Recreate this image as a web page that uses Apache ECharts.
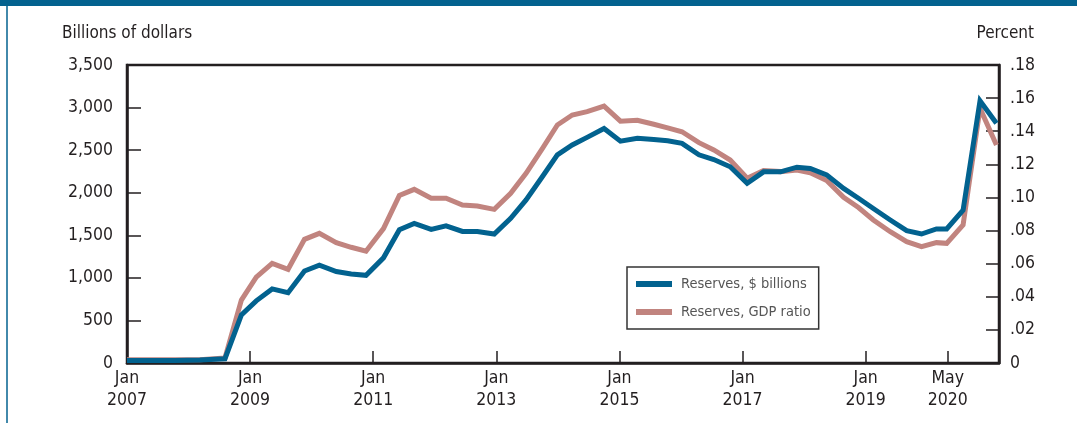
<!DOCTYPE html>
<html lang="en">
<head>
    <meta charset="UTF-8">
    <title>Reserves</title>
    <script src="https://cdn.jsdelivr.net/npm/echarts@6/dist/echarts.min.js"></script>
    <style>
        html, body { margin: 0; padding: 0; background: #fff; }
    </style>
</head>
<body>
<div id="main" style="width: 1077px;height:423px;"></div>
<script>
    // months since Jan 2007
    var months = [0, 4.5, 9.3, 14.2, 19.1, 22.3, 25.2, 28.3, 31.4, 34.6, 37.5, 40.8, 43.7, 46.6,
        50.0, 53.1, 56.0, 59.3, 62.2, 65.4, 68.3, 71.6, 74.8, 77.8, 81.0, 83.9, 86.8, 89.7,
        93.0, 96.2, 99.5, 102.7, 105.4, 108.2, 111.5, 114.4, 117.6, 120.9, 124.1, 127.4, 130.6,
        133.2, 136.4, 139.7, 142.6, 145.5, 148.8, 152.0, 154.9, 157.8, 159.8, 163.0, 166.3, 169.5];

    // Reserves, $ billions
    var reserves = [30, 30, 30, 35, 50, 564, 730, 870, 825, 1080, 1150, 1075, 1045, 1030,
        1235, 1565, 1640, 1570, 1610, 1545, 1545, 1515, 1700, 1915, 2190, 2445, 2560, 2650,
        2755, 2605, 2640, 2625, 2610, 2580, 2445, 2390, 2305, 2110, 2245, 2245, 2300,
        2285, 2210, 2050, 1935, 1815, 1680, 1555, 1515, 1575, 1575, 1795, 3080, 2815];

    // Reserves, GDP ratio
    var gdpRatio = [0.002, 0.002, 0.002, 0.002, 0.003, 0.038, 0.0518, 0.0602, 0.0566, 0.0747, 0.0783, 0.0727, 0.0699, 0.0675,
        0.0812, 0.1012, 0.1049, 0.0995, 0.0995, 0.0954, 0.0948, 0.0928, 0.1025, 0.1146, 0.1297, 0.1438, 0.1498, 0.1518,
        0.1552, 0.1461, 0.1466, 0.1442, 0.142, 0.1397, 0.1331, 0.1287, 0.1226, 0.1116, 0.1162, 0.1156, 0.1166,
        0.1149, 0.1103, 0.1001, 0.0939, 0.0864, 0.0793, 0.0733, 0.0703, 0.0727, 0.0723, 0.0834, 0.1539, 0.1317];

    var tickMonths = [0, 24, 48, 72, 96, 120, 144, 160];
    var tickLabels = ['Jan\n2007', 'Jan\n2009', 'Jan\n2011', 'Jan\n2013', 'Jan\n2015', 'Jan\n2017', 'Jan\n2019', 'May\n2020'];

    var FONT = "'Liberation Sans Narrow', 'DejaVu Sans Condensed', sans-serif";
    var INK = '#231f20';
    var BLUE = '#02628f';
    var PINK = '#c1847f';

    function pairs(ys) {
        var out = [];
        for (var i = 0; i < months.length; i++) out.push([months[i], ys[i]]);
        return out;
    }

    var myChart = echarts.init(document.getElementById('main'));
    var option = {
        animation: false,
        textStyle: { fontFamily: FONT },
        grid: {
            left: 127, right: 78, top: 65, bottom: 60,
            show: true, borderColor: INK, borderWidth: 2.5, backgroundColor: 'transparent'
        },
        graphic: [
            { type: 'rect', left: 0, top: 0, shape: { width: 1077, height: 6 }, style: { fill: '#03628f' } },
            { type: 'line', shape: { x1: 7, y1: 6, x2: 7, y2: 423 }, style: { stroke: '#03628f', lineWidth: 1.5 } },
            { type: 'text', left: 62, top: 25, style: { text: 'Billions of dollars', font: "17px " + FONT, fill: INK } },
            { type: 'text', right: 43, top: 25, style: { text: 'Percent', font: "17px " + FONT, fill: INK } }
        ],
        legend: {
            data: ['Reserves, $ billions', 'Reserves, GDP ratio'],
            orient: 'vertical',
            left: 627, top: 267,
            padding: [8, 8, 8, 9],
            itemGap: 10,
            itemWidth: 36, itemHeight: 6,
            icon: 'rect',
            borderColor: '#333', borderWidth: 1.5,
            backgroundColor: '#fff',
            textStyle: { color: '#555', fontSize: 14.5, lineHeight: 18, padding: [0, 0, 0, 4], fontFamily: FONT }
        },
        xAxis: {
            type: 'value',
            min: 0, max: 170,
            splitLine: { show: false },
            axisLine: { lineStyle: { color: INK, width: 2.5 } },
            axisTick: { inside: true, length: 12, customValues: tickMonths, lineStyle: { color: INK, width: 1.5 } },
            axisLabel: {
                customValues: tickMonths,
                color: INK, fontSize: 17.5, lineHeight: 22, margin: 4,
                formatter: function (v) {
                    var i = tickMonths.indexOf(v);
                    return i >= 0 ? tickLabels[i] : '';
                }
            }
        },
        yAxis: [{
            type: 'value',
            min: 0, max: 3500, interval: 500,
            splitLine: { show: false },
            axisLine: { show: true, lineStyle: { color: INK, width: 2.5 } },
            axisTick: { show: true, inside: true, length: 14, lineStyle: { color: INK, width: 1.5 } },
            axisLabel: {
                color: INK, fontSize: 17.5, margin: 14,
                formatter: function (v) { return v >= 1000 ? Math.floor(v / 1000) + ',' + String(v % 1000).padStart(3, '0') : String(v); }
            }
        }, {
            type: 'value',
            min: 0, max: 0.18, interval: 0.02,
            splitLine: { show: false },
            axisLine: { show: true, lineStyle: { color: INK, width: 2.5 } },
            axisTick: { show: true, inside: true, length: 13, lineStyle: { color: INK, width: 1.5 } },
            axisLabel: {
                color: INK, fontSize: 17.5, margin: 11,
                formatter: function (v) { return v === 0 ? '0' : v.toFixed(2).replace(/^0/, ''); }
            }
        }],
        series: [
            {
                name: 'Reserves, GDP ratio',
                type: 'line',
                yAxisIndex: 1,
                symbol: 'none',
                color: PINK,
                lineStyle: { width: 5, color: PINK, join: 'miter' },
                data: pairs(gdpRatio)
            },
            {
                name: 'Reserves, $ billions',
                type: 'line',
                yAxisIndex: 0,
                symbol: 'none',
                color: BLUE,
                lineStyle: { width: 5, color: BLUE, join: 'miter' },
                data: pairs(reserves)
            }
        ]
    };
    myChart.setOption(option);
</script>
</body>
</html>
